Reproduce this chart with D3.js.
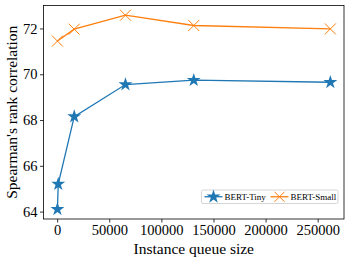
<!DOCTYPE html>
<html><head><meta charset="utf-8">
<script src="https://cdn.jsdelivr.net/npm/d3@7"></script>
<style>body{margin:0;background:#fff}svg{display:block}</style>
</head><body>
<script>
const tinyX = [256, 1024, 16384, 65536, 131072, 262144];
const tinyY = [64.1, 65.2, 68.15, 69.55, 69.74, 69.65];
const smallX = [256, 16384, 65536, 131072, 262144];
const smallY = [71.45, 71.97, 72.58, 72.13, 71.98];
const xTicks = [0, 50000, 100000, 150000, 200000, 250000];
const yTicks = [64, 66, 68, 70, 72];
const seriesNames = ["BERT-Tiny", "BERT-Small"];

const W = 349, H = 260;
const m = {l: 43.5, r: 5, t: 5.5, b: 41};
const svg = d3.select("body").append("svg").attr("width", W).attr("height", H);
const x = d3.scaleLinear().domain([-13107, 275251]).range([m.l, W - m.r]);
const y = d3.scaleLinear().domain([63.676, 73.004]).range([H - m.b, m.t]);
const font = "'Liberation Serif','Times New Roman',serif";

const gx = svg.append("g").attr("transform", `translate(0,${H - m.b})`)
  .call(d3.axisBottom(x).tickValues(xTicks).tickFormat(d3.format("d")).tickSizeOuter(0).tickSize(3.5).tickPadding(2.5));
const gy = svg.append("g").attr("transform", `translate(${m.l},0)`)
  .call(d3.axisLeft(y).tickValues(yTicks).tickSizeOuter(0).tickSize(3.5).tickPadding(2.5));
[gx, gy].forEach(g => {
  g.select(".domain").remove();
  g.selectAll("text").attr("font-family", font).attr("font-size", 14.5).attr("fill", "#000");
  g.selectAll("line").attr("stroke", "#000").attr("stroke-width", 0.8);
});
svg.append("rect").attr("x", m.l).attr("y", m.t).attr("width", W - m.r - m.l).attr("height", H - m.b - m.t)
  .attr("fill", "none").attr("stroke", "#000").attr("stroke-width", 0.8);

const line = d3.line().x(d => x(d[0])).y(d => y(d[1]));
const tiny = tinyX.map((v, i) => [v, tinyY[i]]);
const small = smallX.map((v, i) => [v, smallY[i]]);
const c1 = "#1f77b4", c2 = "#ff7f0e";
const star = d3.symbol().type(d3.symbolStar).size(60)();

svg.append("path").attr("d", line(tiny)).attr("fill", "none").attr("stroke", c1).attr("stroke-width", 1.3);
svg.append("path").attr("d", line(small)).attr("fill", "none").attr("stroke", c2).attr("stroke-width", 1.3);
svg.selectAll(".st").data(tiny).join("path").attr("d", star)
  .attr("transform", d => `translate(${x(d[0])},${y(d[1])})`).attr("fill", c1);
function xMark(sel, sz) {
  sel.append("path").attr("d", `M${-sz},${-sz}L${sz},${sz}M${-sz},${sz}L${sz},${-sz}`)
    .attr("stroke", c2).attr("stroke-width", 1).attr("fill", "none");
}
small.forEach(d => {
  const g = svg.append("g").attr("transform", `translate(${x(d[0])},${y(d[1])})`);
  xMark(g, 5.5);
});

// axis labels
svg.append("text").attr("x", (m.l + W - m.r) / 2).attr("y", 254).attr("text-anchor", "middle")
  .attr("font-family", font).attr("font-size", 15.5).text("Instance queue size");
svg.append("text").attr("transform", `translate(17,${(m.t + H - m.b) / 2}) rotate(-90)`)
  .attr("text-anchor", "middle").attr("font-family", font).attr("font-size", 15.5).text("Spearman's rank correlation");

// legend
const lg = svg.append("g").attr("transform", "translate(201.5,190)");
lg.append("rect").attr("width", 136.5).attr("height", 13.5).attr("rx", 1.5)
  .attr("fill", "#fff").attr("fill-opacity", 0.8).attr("stroke", "#ccc").attr("stroke-width", 0.8);
lg.append("line").attr("x1", 3).attr("x2", 21).attr("y1", 6.75).attr("y2", 6.75).attr("stroke", c1).attr("stroke-width", 1.3);
lg.append("path").attr("d", star).attr("transform", "translate(12,6.75)").attr("fill", c1);
lg.append("text").attr("x", 23).attr("y", 10).attr("font-family", font).attr("font-size", 9).text(seriesNames[0]);
lg.append("line").attr("x1", 69).attr("x2", 87).attr("y1", 6.75).attr("y2", 6.75).attr("stroke", c2).attr("stroke-width", 1.3);
xMark(lg.append("g").attr("transform", "translate(78,6.75)"), 5);
lg.append("text").attr("x", 89).attr("y", 10).attr("font-family", font).attr("font-size", 9).text(seriesNames[1]);
</script>
</body></html>
